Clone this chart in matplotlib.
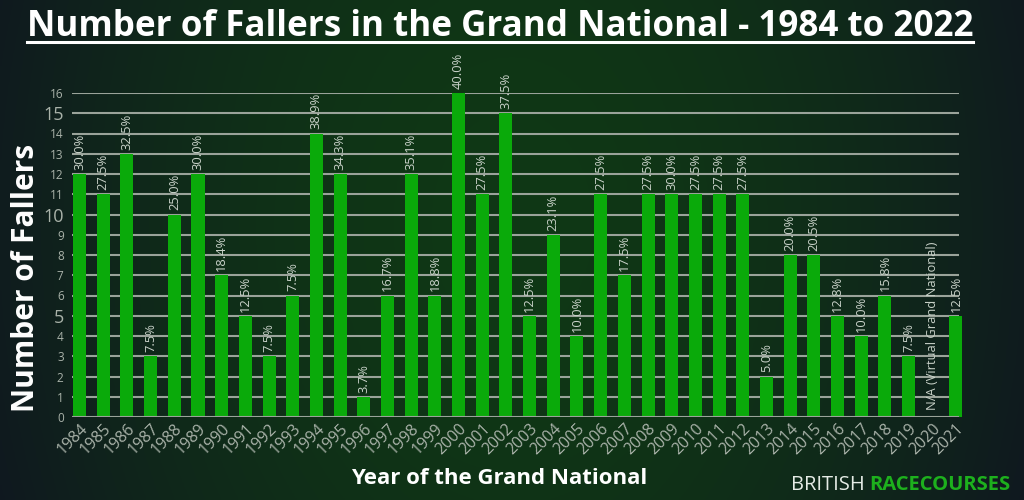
import numpy as np
import matplotlib
matplotlib.use("Agg")
import matplotlib.pyplot as plt
from matplotlib.lines import Line2D

years = [str(y) for y in range(1984, 2022)]
fallers = [12, 11, 13, 3, 10, 12, 7, 5, 3, 6, 14, 12, 1, 6, 12, 6, 16, 11, 15, 5,
           9, 4, 11, 7, 11, 11, 11, 11, 11, 2, 8, 8, 5, 4, 6, 3, 0, 5]
pct_labels = ["30.0%", "27.5%", "32.5%", "7.5%", "25.0%", "30.0%", "18.4%", "12.5%",
              "7.5%", "7.5%", "38.9%", "34.3%", "3.7%", "16.7%", "35.1%", "18.8%",
              "40.0%", "27.5%", "37.5%", "12.5%", "23.1%", "10.0%", "27.5%", "17.5%",
              "27.5%", "30.0%", "27.5%", "27.5%", "27.5%", "5.0%", "20.0%", "20.5%",
              "12.8%", "10.0%", "15.8%", "7.5%", "N/A (Virtual Grand National)", "12.5%"]
yticks = list(range(0, 17))

FONT = "Open Sans"
W, H = 1024, 500
fig = plt.figure(figsize=(W / 100, H / 100), dpi=100)

# background gradient
bg = fig.add_axes([0, 0, 1, 1])
xs = np.linspace(0, 1, 400)
ys = np.linspace(0, 1, 200)
X, Y = np.meshgrid(xs, ys)
center = np.array([0x10, 0x38, 0x15]) / 255
edge = np.array([0x0f, 0x17, 0x20]) / 255
d = np.sqrt(((X - 0.5) / 0.55) ** 2 + ((Y - 0.55) / 1.6) ** 2)
t = np.clip(d, 0, 1) ** 1.8
img = center[None, None, :] * (1 - t[..., None]) + edge[None, None, :] * t[..., None]
bg.imshow(img, aspect="auto", extent=[0, 1, 0, 1], origin="lower")
bg.set_axis_off()
bg.set_zorder(-10)

# main axes
left_px, right_px = 72, 959
base_px, top_px = 417, 93
ax = fig.add_axes([left_px / W, 1 - base_px / H, (right_px - left_px) / W, (base_px - top_px) / H])
ax.patch.set_alpha(0)
x = np.arange(len(years))
ax.set_xlim(-0.32, len(years) - 1 + 0.13)
ax.set_ylim(0, 16)

grid_c = "#9aa39a"
for v in yticks[1:]:
    ax.axhline(v, color=grid_c, lw=1.5, zorder=1)
ax.axhline(0, color=grid_c, lw=1.5, zorder=3)

bars = ax.bar(x, fallers, width=0.55, color="#0aaa0a", zorder=2, clip_on=False)

for xi, v, lab in zip(x, fallers, pct_labels):
    ax.annotate(lab, (xi, v), xytext=(0, 3 if v > 0 else 5), textcoords="offset points",
                rotation=90, ha="center", va="bottom", fontsize=9.3, color="#c9d2c9",
                family=FONT, annotation_clip=False, zorder=4)

for s in ax.spines.values():
    s.set_visible(False)

ax.set_yticks(yticks)
ax.set_yticklabels([str(v) for v in yticks])
ax.tick_params(axis="y", length=0, pad=6)
for lab, v in zip(ax.get_yticklabels(), yticks):
    lab.set_family(FONT)
    lab.set_color("#a9b2a9")
    lab.set_fontsize(13 if v in (5, 10, 15) else 8.5)

ax.set_xticks(x)
ax.set_xticklabels(years, rotation=45, ha="right", rotation_mode="anchor",
                   family=FONT, fontsize=11.5, color="#a9b2a9")
ax.tick_params(axis="x", length=0, pad=3)

# y label
fig.text(26 / W, 1 - 278 / H, "Number of Fallers", rotation=90, ha="center", va="center",
         family=FONT, fontweight="bold", fontsize=21.5, color="white")
# x label
fig.text(499 / W, 1 - 478 / H, "Year of the Grand National", ha="center", va="center",
         family=FONT, fontweight="bold", fontsize=16, color="white")

# title with underline
title = fig.text(500 / W, 1 - 36 / H, "Number of Fallers in the Grand National - 1984 to 2022",
                 ha="center", va="baseline", family=FONT, fontweight="bold", fontsize=25.2,
                 color="white")
# branding
t2 = fig.text(1010 / W, 1 - 485 / H, "RACECOURSES", ha="right", va="center", family=FONT,
              fontweight="bold", fontsize=14.5, color="#1db01d")
fig.canvas.draw()
r = fig.canvas.get_renderer()
bb = title.get_window_extent(r)
uy = (H - 42) / H
fig.add_artist(Line2D([bb.x0 / W, bb.x1 / W], [uy, uy], color="white", lw=2.2,
                      transform=fig.transFigure))
bb2 = t2.get_window_extent(r)
fig.text((bb2.x0 - 4) / W, 1 - 485 / H, "BRITISH", ha="right", va="center", family=FONT,
         fontsize=14.5, color="#e6ece6")

fig.savefig("out.png", dpi=100)
